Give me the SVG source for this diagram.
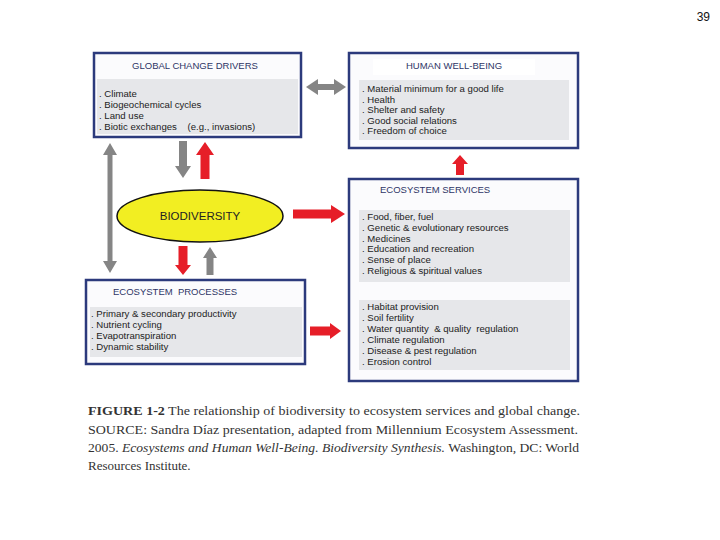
<svg xmlns="http://www.w3.org/2000/svg" width="720" height="540" viewBox="0 0 720 540">
<style>
.box{fill:#fbfbfd;stroke:#2c3a7c;stroke-width:2.5}
.panel{fill:#e6e7ea}
.title{font-family:"Liberation Sans",Arial,sans-serif;font-size:9.5px;fill:#2e3566}
.item{font-family:"Liberation Sans",Arial,sans-serif;font-size:9.6px;fill:#222;white-space:pre}
.red{fill:#e61e28}
.grey{fill:#858585}
.cap{font-family:"Liberation Serif","Times New Roman",serif;font-size:13px;fill:#333}
</style>
<rect width="720" height="540" fill="#fff"/>
<text x="710" y="21" text-anchor="end" font-family="Liberation Sans, Arial, sans-serif" font-size="12" fill="#111">39</text>

<g id="global-change-drivers">
<rect class="box" x="94" y="53" width="207" height="84"/>
<rect class="panel" x="97" y="79" width="201" height="55"/>
<text class="title" x="195" y="69" text-anchor="middle">GLOBAL CHANGE DRIVERS</text>
<text class="item" x="99" y="97">. Climate</text>
<text class="item" x="99" y="108">. Biogeochemical cycles</text>
<text class="item" x="99" y="119">. Land use</text>
<text class="item" x="99" y="130" xml:space="preserve">. Biotic exchanges    (e.g., invasions)</text>
</g>

<g id="human-well-being">
<rect class="box" x="349" y="53" width="229" height="95"/>
<rect x="373" y="59" width="162" height="16" fill="#fff"/>
<rect class="panel" x="359" y="80" width="210" height="60"/>
<text class="title" x="454" y="69" text-anchor="middle" fill="#2c3a7c">HUMAN WELL-BEING</text>
<text class="item" x="362" y="92">. Material minimum for a good life</text>
<text class="item" x="362" y="102.5">. Health</text>
<text class="item" x="362" y="113">. Shelter and safety</text>
<text class="item" x="362" y="123.5">. Good social relations</text>
<text class="item" x="362" y="134">. Freedom of choice</text>
</g>

<g id="ecosystem-services">
<rect class="box" x="349" y="179" width="229" height="202"/>
<rect class="panel" x="359" y="210" width="211" height="72"/>
<rect class="panel" x="359" y="300" width="211" height="70"/>
<text class="title" x="380" y="193">ECOSYSTEM SERVICES</text>
<text class="item" x="362" y="220">. Food, fiber, fuel</text>
<text class="item" x="362" y="231">. Genetic &amp; evolutionary resources</text>
<text class="item" x="362" y="241.5">. Medicines</text>
<text class="item" x="362" y="252">. Education and recreation</text>
<text class="item" x="362" y="263">. Sense of place</text>
<text class="item" x="362" y="274">. Religious &amp; spiritual values</text>
<text class="item" x="362" y="310">. Habitat provision</text>
<text class="item" x="362" y="321">. Soil fertility</text>
<text class="item" x="362" y="332" xml:space="preserve">. Water quantity  &amp; quality  regulation</text>
<text class="item" x="362" y="342.5">. Climate regulation</text>
<text class="item" x="362" y="353.5">. Disease &amp; pest regulation</text>
<text class="item" x="362" y="365">. Erosion control</text>
</g>

<g id="ecosystem-processes">
<rect class="box" x="86" y="280" width="219" height="84"/>
<rect class="panel" x="90" y="307" width="212" height="50"/>
<text class="title" x="113" y="295" xml:space="preserve">ECOSYSTEM  PROCESSES</text>
<text class="item" x="91" y="317">. Primary &amp; secondary productivity</text>
<text class="item" x="91" y="328">. Nutrient cycling</text>
<text class="item" x="91" y="339">. Evapotranspiration</text>
<text class="item" x="91" y="350">. Dynamic stability</text>
</g>

<g id="biodiversity">
<ellipse cx="200" cy="216" rx="83" ry="26" fill="#f2ee22" stroke="#111" stroke-width="1.5"/>
<text x="200" y="220" text-anchor="middle" font-family="Liberation Sans, Arial, sans-serif" font-size="11.5" fill="#222">BIODIVERSITY</text>
</g>

<g id="connectors">
<polygon class="grey" points="110,143 117,155 112.5,155 112.5,261 117,261 110,273 103,261 107.5,261 107.5,155 103,155"/>
<polygon class="grey" points="179,141 187,141 187,166 191,166 183,178 175,166 179,166"/>
<polygon class="red" points="205,142 214,155 209.5,155 209.5,179 200.5,179 200.5,155 196,155"/>
<polygon class="red" points="293,209.5 331,209.5 331,205 345,214 331,223 331,218.5 293,218.5"/>
<polygon class="red" points="178.5,246 187.5,246 187.5,265 191,265 183,275 175,265 178.5,265"/>
<polygon class="grey" points="210,247 217,258 213.5,258 213.5,275 206.5,275 206.5,258 203,258"/>
<polygon class="grey" points="306,87 318,79 318,84 334,84 334,79 346,87 334,95 334,90 318,90 318,95"/>
<polygon class="red" points="460,155 468,164 464,164 464,175 456,175 456,164 452,164"/>
<polygon class="red" points="310,326.5 330,326.5 330,323 341,331 330,339 330,335.5 310,335.5"/>
</g>

<g id="caption">
<text class="cap" x="88" y="415" textLength="492" lengthAdjust="spacingAndGlyphs"><tspan font-weight="bold">FIGURE 1-2</tspan> The relationship of biodiversity to ecosystem services and global change.</text>
<text class="cap" x="88" y="434" textLength="490" lengthAdjust="spacingAndGlyphs">SOURCE: Sandra Díaz presentation, adapted from Millennium Ecosystem Assessment.</text>
<text class="cap" x="88" y="452" textLength="491" lengthAdjust="spacingAndGlyphs">2005. <tspan font-style="italic">Ecosystems and Human Well-Being. Biodiversity Synthesis.</tspan> Washington, DC: World</text>
<text class="cap" x="88" y="470">Resources Institute.</text>
</g>
</svg>
